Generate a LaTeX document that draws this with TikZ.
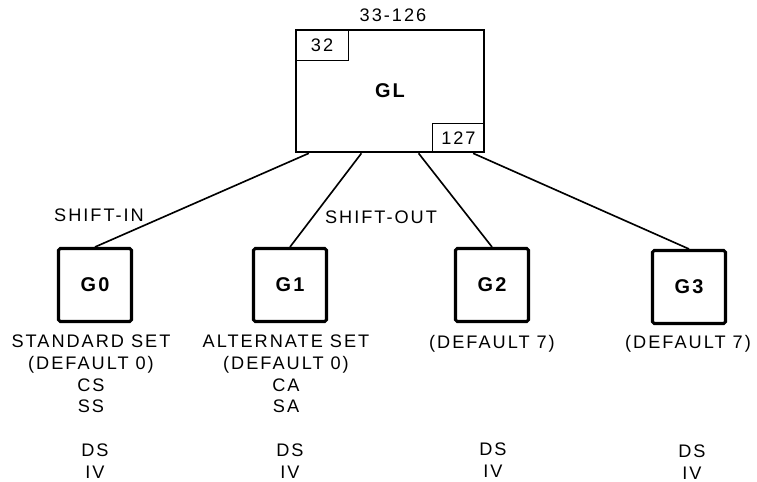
\documentclass[tikz,border=0pt]{standalone}
\usepackage{fontspec}
\setmainfont{Liberation Sans}[LetterSpace=11]
\usepackage{tikz}
\usetikzlibrary{positioning, calc}
\tikzset{
  gbox/.style={rectangle, draw, line width=2.6pt, rounded corners=1.5pt,
    minimum width=2.19cm, minimum height=2.19cm,
    font=\fontsize{17}{20}\selectfont\bfseries},
  tagbox/.style={rectangle, draw, line width=1.5pt, inner sep=0pt},
  link/.style={line width=1.4pt},
  lbl/.style={align=center, inner sep=0pt}
}

\begin{document}
\fontsize{15.5}{18.5}\selectfont
\begin{tikzpicture}[x=0.03cm, y=-0.03cm]
  \useasboundingbox (0,0) rectangle (757,482);

  % GL area with its corner codes
  \node[draw, line width=2.2pt, minimum width=5.64cm, minimum height=3.66cm,
    font=\fontsize{17}{20}\selectfont\bfseries] (gl) at (390,91) {GL};
  \node[tagbox, anchor=north west, minimum width=1.59cm, minimum height=0.93cm]
    (lo) at (gl.north west) {32};
  \node[tagbox, anchor=south east, minimum width=1.56cm, minimum height=0.87cm]
    (hi) at (gl.south east) {127};
  \node (range) at (393,15) {33-126};

  % Code sets
  \node[gbox] (g0) at (95,285) {G0};
  \node[gbox] (g1) at (290,285) {G1};
  \node[gbox] (g2) at (492,285) {G2};
  \node[gbox] (g3) at (689,287) {G3};

  % Links from GL
  \coordinate (gla) at ($(gl.south west)!0.074!(gl.south east)$);
  \coordinate (glb) at ($(gl.south west)!0.35!(gl.south east)$);
  \coordinate (glc) at ($(gl.south west)!0.65!(gl.south east)$);
  \coordinate (gld) at ($(gl.south west)!0.936!(gl.south east)$);
  \draw[link] (gla) -- (g0.north);
  \draw[link] (glb) -- (g1.north);
  \draw[link] (glc) -- (g2.north);
  \draw[link] (gld) -- (g3.north);
  \node (shin) at (99,215) {SHIFT-IN};
  \node (shout) at (381,217) {SHIFT-OUT};

  % Set descriptions
  \node[lbl, anchor=north] (g0set) at (91,335) {STANDARD SET\\(DEFAULT 0)\\CS\\SS};
  \node[lbl, anchor=north] (g1set) at (286,335) {ALTERNATE SET\\(DEFAULT 0)\\CA\\SA};
  \node[lbl, anchor=north] (g2set) at (492,335) {(DEFAULT 7)};
  \node[lbl, anchor=north] (g3set) at (688,335) {(DEFAULT 7)};

  % DS and IV
  \node[lbl, anchor=north] (g0ds) at (95,444) {DS\\IV};
  \node[lbl, anchor=north] (g1ds) at (290,444) {DS\\IV};
  \node[lbl, anchor=north] (g2ds) at (493,443) {DS\\IV};
  \node[lbl, anchor=north] (g3ds) at (692,445) {DS\\IV};
\end{tikzpicture}
\end{document}
